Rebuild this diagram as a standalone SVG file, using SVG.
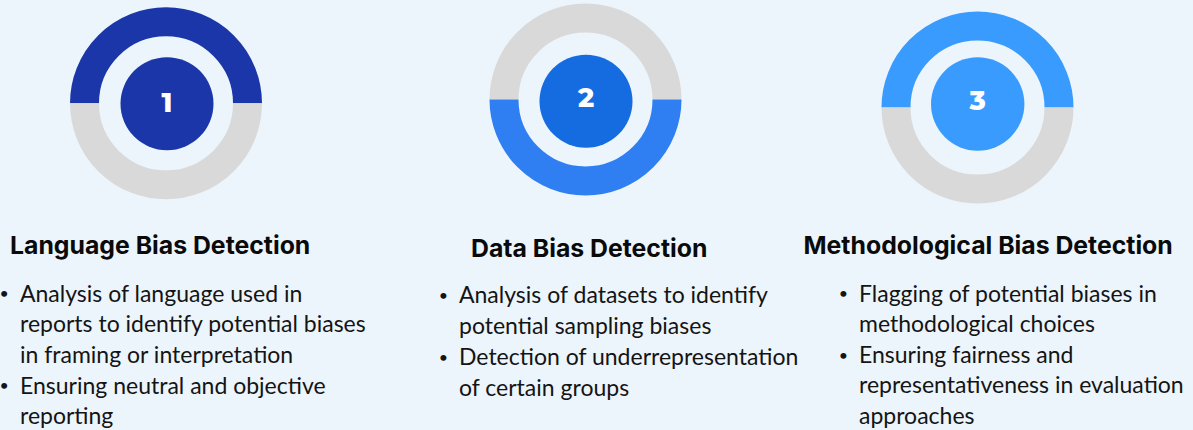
<svg xmlns="http://www.w3.org/2000/svg" width="1193" height="430" viewBox="0 0 1193 430">
<style>
.bg{fill:#ECF5FB}
.ring{fill:none;stroke-width:29}
.gray{stroke:#D9D9D9}
.num{font-family:Montserrat,"Open Sans","Noto Sans",sans-serif;font-weight:800;font-size:27px;fill:#fff;text-anchor:middle}
.title{font-family:Inter,"Liberation Sans",sans-serif;font-weight:700;font-size:24.8px;fill:#0a0a0a}
.body{font-family:Lato,"Noto Sans",sans-serif;font-size:23px;fill:#141414}
.bul{font-family:Lato,"Noto Sans",sans-serif;font-size:16px;fill:#141414;text-anchor:middle}
</style>
<rect class="bg" x="0" y="0" width="1193" height="430"/>
<g id="node1">
<path class="ring" stroke="#1A36A8" d="M84.5,103.3 A81.5,81.5 0 0 1 247.5,103.3"/>
<path class="ring gray" d="M84.5,103.3 A81.5,81.5 0 0 0 247.5,103.3"/>
<circle cx="167" cy="103.7" r="46.5" fill="#1A36A8"/>
<text class="num" x="167" y="111.7">1</text>
<text class="title" x="10" y="254">Language Bias Detection</text>
<text class="bul" x="4.2" y="299">•</text>
<text class="bul" x="4.2" y="391">•</text>
<g class="body">
<text x="20" y="301.5">Analysis of language used in</text>
<text x="20" y="332">reports to identify potential biases</text>
<text x="20" y="363">in framing or interpretation</text>
<text x="20" y="393.5">Ensuring neutral and objective</text>
<text x="20" y="424">reporting</text>
</g>
</g>
<g id="node2">
<path class="ring gray" d="M504,99.5 A81.5,81.5 0 0 1 667,99.5"/>
<path class="ring" stroke="#2F7FF2" d="M504,99.5 A81.5,81.5 0 0 0 667,99.5"/>
<circle cx="586" cy="101.2" r="46.5" fill="#156BE0"/>
<text class="num" x="586" y="107.3">2</text>
<text class="title" x="471" y="256.5">Data Bias Detection</text>
<text class="bul" x="443.5" y="301">•</text>
<text class="bul" x="443.5" y="363">•</text>
<g class="body">
<text x="459" y="303">Analysis of datasets to identify</text>
<text x="459" y="334">potential sampling biases</text>
<text x="459" y="365">Detection of underrepresentation</text>
<text x="459" y="396">of certain groups</text>
</g>
</g>
<g id="node3">
<path class="ring" stroke="#3A9BFF" d="M896,107.5 A81.5,81.5 0 0 1 1059,107.5"/>
<path class="ring gray" d="M896,107.5 A81.5,81.5 0 0 0 1059,107.5"/>
<circle cx="977.7" cy="104" r="46.7" fill="#3A9BFF"/>
<text class="num" x="977.7" y="110">3</text>
<text class="title" x="803.5" y="254">Methodological Bias Detection</text>
<text class="bul" x="843.3" y="299">•</text>
<text class="bul" x="843.3" y="360.5">•</text>
<g class="body">
<text x="859" y="301.5">Flagging of potential biases in</text>
<text x="859" y="332">methodological choices</text>
<text x="859" y="362.5">Ensuring fairness and</text>
<text x="859" y="393">representativeness in evaluation</text>
<text x="859" y="423.5">approaches</text>
</g>
</g>
<g id="connectors"/>
</svg>
